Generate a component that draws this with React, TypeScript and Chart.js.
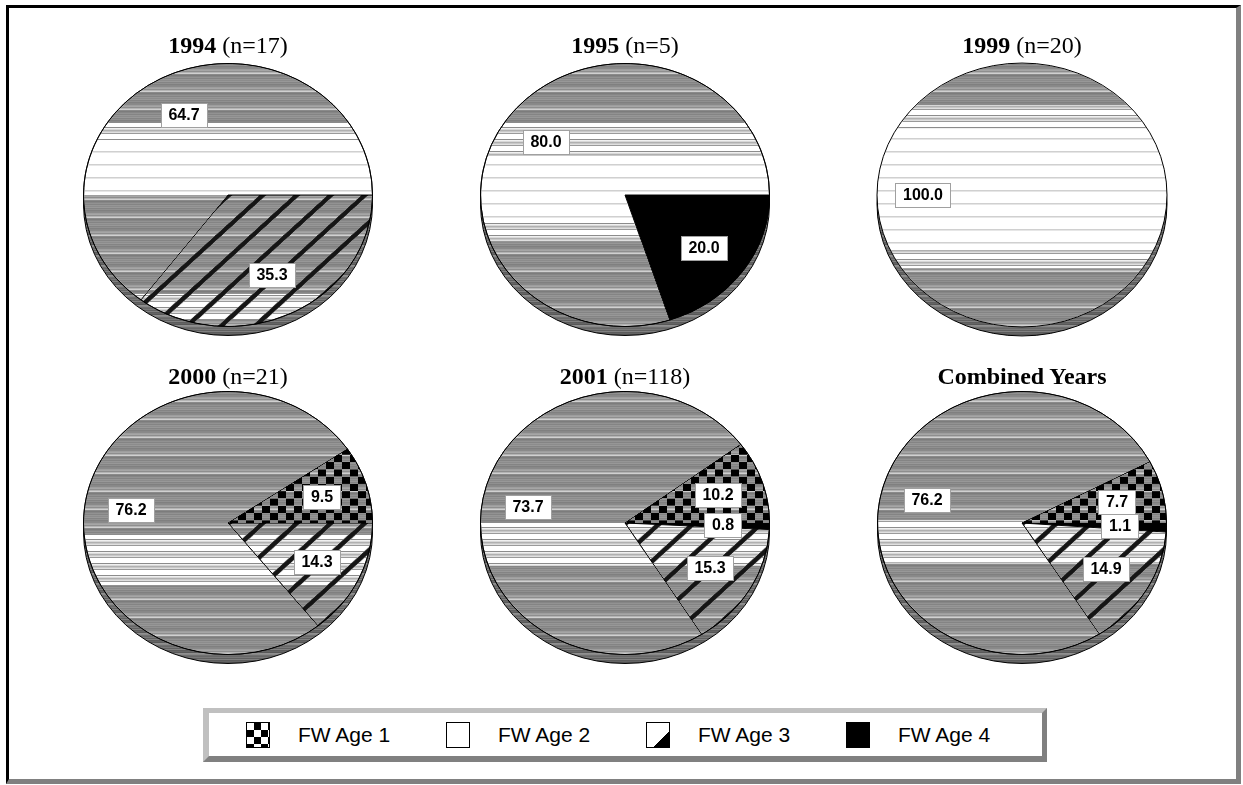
import React, { useEffect, useRef } from "react";
import { Chart, registerables } from "chart.js";

Chart.register(...registerables);

// ---------- data ----------
const CATEGORIES = ["FW Age 1", "FW Age 2", "FW Age 3", "FW Age 4"];
const YEARS = ["1994", "1995", "1999", "2000", "2001", "Combined Years"];
const SAMPLE_SIZES = ["(n=17)", "(n=5)", "(n=20)", "(n=21)", "(n=118)", ""];
const AGE1 = [0, 0, 0, 9.5, 10.2, 7.7];
const AGE2 = [64.7, 80.0, 100.0, 76.2, 73.7, 76.2];
const AGE3 = [35.3, 0, 0, 14.3, 15.3, 14.9];
const AGE4 = [0, 20.0, 0, 0, 0.8, 1.1];

// ---------- layout / style ----------
const COL_X = [228, 625, 1022];
const ROW_Y = [195, 523];
const TITLE_Y = [32, 363];
const SQ = 0.91; // vertical squash of pies
const RIM = 9; // 3D rim depth
const CW = 300;
const CH = 310;

// shading bands per pie (fraction of vertical radius: -1 top .. 1 bottom)
const SHADE_BANDS: [number, number, string][][] = [
  [[-1, -0.55, "g"], [-0.55, -0.42, "l"], [-0.42, 0, "w"], [0, 0.75, "g"], [0.75, 0.95, "l"], [0.95, 1.01, "g"]],
  [[-1, -0.55, "g"], [-0.55, -0.3, "l"], [-0.3, 0.2, "w"], [0.2, 0.35, "l"], [0.35, 1.01, "g"]],
  [[-1, -0.68, "g"], [-0.68, -0.5, "l"], [-0.5, 0.42, "w"], [0.42, 0.55, "l"], [0.55, 1.01, "g"]],
  [[-1, 0.09, "g"], [0.09, 0.47, "l"], [0.47, 1.01, "g"]],
  [[-1, 0, "g"], [0, 0.33, "l"], [0.33, 1.01, "g"]],
  [[-1, -0.02, "g"], [-0.02, 0.3, "l"], [0.3, 1.01, "g"]],
];

const G_SEQ = [0x86, 0x8e, 0x80, 0x96, 0x8a, 0x9e, 0x84, 0x92, 0xb4, 0x88, 0x8c, 0x7c, 0xa6, 0x90, 0x84, 0xd0, 0x8a, 0x98];
const L_SEQ = [0xff, 0xc8, 0xff, 0x9a, 0xf0, 0xff, 0xb0, 0xff, 0xe0, 0x8c, 0xff, 0xd8];
const W_SEQ = [0xff, 0xff, 0xff, 0xff, 0xe6, 0xff, 0xff, 0xff, 0xff, 0xff, 0xd0, 0xff, 0xff];
const RIM_SEQ = [0x60, 0x70, 0x58, 0x80, 0x68, 0x90, 0x5c, 0x78, 0x88, 0x64];

function shadeLevel(kind: string, row: number) {
  const seq = kind === "g" ? G_SEQ : kind === "l" ? L_SEQ : W_SEQ;
  return seq[(row * 7) % seq.length];
}

function makePatterns(ctx: CanvasRenderingContext2D) {
  const t1 = document.createElement("canvas");
  t1.width = 16;
  t1.height = 16;
  const c1 = t1.getContext("2d")!;
  c1.fillStyle = "#fff";
  c1.fillRect(0, 0, 16, 16);
  c1.fillStyle = "#000";
  c1.fillRect(0, 0, 8, 8);
  c1.fillRect(8, 8, 8, 8);

  const S = 34;
  const t2 = document.createElement("canvas");
  t2.width = S;
  t2.height = S;
  const c2 = t2.getContext("2d")!;
  c2.fillStyle = "#fff";
  c2.fillRect(0, 0, S, S);
  c2.strokeStyle = "#151515";
  c2.lineWidth = 5;
  c2.beginPath();
  c2.moveTo(-S / 2, S / 2);
  c2.lineTo(S / 2, -S / 2);
  c2.moveTo(0, S);
  c2.lineTo(S, 0);
  c2.moveTo(S / 2, S * 1.5);
  c2.lineTo(S * 1.5, S / 2);
  c2.stroke();

  return {
    checker: ctx.createPattern(t1, "repeat")!,
    hatch: ctx.createPattern(t2, "repeat")!,
  };
}

function PieCanvas({ index }: { index: number }) {
  const ref = useRef<HTMLCanvasElement | null>(null);
  const cx = COL_X[index % 3];
  const cy = ROW_Y[Math.floor(index / 3)];

  useEffect(() => {
    const canvas = ref.current!;
    const ctx = canvas.getContext("2d")!;
    const pats = makePatterns(ctx);
    // drawn clockwise from 3 o'clock: Age 4, Age 3, Age 2, Age 1
    const values = [AGE4[index], AGE3[index], AGE2[index], AGE1[index]];
    const labels = [CATEGORIES[3], CATEGORIES[2], CATEGORIES[1], CATEGORIES[0]];
    const fills: any[] = ["#000000", pats.hatch, "#ffffff", pats.checker];
    const bands = SHADE_BANDS[index];

    const plugin = {
      id: "pie3d",
      beforeDatasetsDraw(chart: any) {
        const el = chart.getDatasetMeta(0).data[0];
        const x = el.x, y = el.y, r = el.outerRadius;
        const c = chart.ctx as CanvasRenderingContext2D;
        c.save();
        c.beginPath();
        c.ellipse(x, y + RIM, r, r * SQ, 0, 0, Math.PI * 2);
        c.clip();
        const top = Math.floor(y + RIM - r * SQ);
        for (let yy = top; yy <= y + RIM + r * SQ + 1; yy++) {
          const g = RIM_SEQ[(yy * 3) % RIM_SEQ.length];
          c.fillStyle = `rgb(${g},${g},${g})`;
          c.fillRect(x - r - 2, yy, 2 * r + 4, 1);
        }
        c.restore();
        c.beginPath();
        c.ellipse(x, y + RIM, r, r * SQ, 0, 0, Math.PI * 2);
        c.strokeStyle = "#000";
        c.lineWidth = 1;
        c.stroke();
        c.save();
        c.translate(x, y);
        c.scale(1, SQ);
        c.translate(-x, -y);
      },
      afterDatasetsDraw(chart: any) {
        const c = chart.ctx as CanvasRenderingContext2D;
        c.restore();
        const el = chart.getDatasetMeta(0).data[0];
        const x = el.x, y = el.y, r = el.outerRadius;
        const ry = r * SQ;
        c.save();
        c.beginPath();
        c.ellipse(x, y, r - 0.5, ry - 0.5, 0, 0, Math.PI * 2);
        c.clip();
        c.globalCompositeOperation = "darken";
        for (let yy = Math.floor(y - ry); yy <= y + ry; yy++) {
          const f = (yy + 0.5 - y) / ry;
          let kind = "g";
          for (const b of bands) {
            if (f >= b[0] && f < b[1]) {
              kind = b[2];
              break;
            }
          }
          const g = shadeLevel(kind, yy);
          if (g < 255) {
            c.fillStyle = `rgb(${g},${g},${g})`;
            c.fillRect(x - r - 1, yy, 2 * r + 2, 1);
          }
        }
        c.restore();
        c.beginPath();
        c.ellipse(x, y, r, ry, 0, 0, Math.PI * 2);
        c.strokeStyle = "#000";
        c.lineWidth = 1;
        c.stroke();
      },
      afterDraw(chart: any) {
        const c = chart.ctx as CanvasRenderingContext2D;
        const meta = chart.getDatasetMeta(0);
        c.save();
        c.font = 'bold 16px "Liberation Sans", Arial, sans-serif';
        c.textAlign = "center";
        c.textBaseline = "middle";
        meta.data.forEach((el: any, i: number) => {
          const v = values[i];
          if (!(v > 0)) return;
          const mid = (el.startAngle + el.endAngle) / 2;
          const r = el.outerRadius;
          const px = Math.round(el.x + Math.cos(mid) * 0.68 * r);
          const py = Math.round(el.y + Math.sin(mid) * 0.68 * r * SQ);
          const txt = v.toFixed(1);
          const w = Math.round(c.measureText(txt).width + 16);
          const h = 25;
          const bx = Math.round(px - w / 2);
          const by = Math.round(py - h / 2);
          c.fillStyle = "#fff";
          c.fillRect(bx, by, w, h);
          c.strokeStyle = "#a0a0a0";
          c.lineWidth = 1;
          c.strokeRect(bx + 0.5, by + 0.5, w - 1, h - 1);
          c.fillStyle = "#000";
          c.fillText(txt, px, py + 1);
        });
        c.restore();
      },
    };

    const chart = new Chart(canvas, {
      type: "pie",
      data: {
        labels,
        datasets: [
          {
            data: values,
            backgroundColor: fills,
            borderColor: "#000",
            borderWidth: values.map((v) => (v > 0 && v < 100 ? 1 : 0)),
            clip: false as any,
          } as any,
        ],
      },
      options: {
        animation: false,
        responsive: false,
        rotation: 90,
        events: [],
        layout: { padding: 5 },
        plugins: { legend: { display: false }, tooltip: { enabled: false } },
      } as any,
      plugins: [plugin as any],
    });
    return () => chart.destroy();
  }, [index]);

  return (
    <canvas
      ref={ref}
      width={CW}
      height={CH}
      style={{ position: "absolute", left: cx - CW / 2, top: cy - 155, width: CW, height: CH }}
    />
  );
}

function Title({ index }: { index: number }) {
  const cx = COL_X[index % 3];
  const top = TITLE_Y[Math.floor(index / 3)];
  return (
    <div
      style={{
        position: "absolute",
        left: cx - 150,
        top,
        width: 300,
        textAlign: "center",
        fontFamily: '"Liberation Serif", "Times New Roman", serif',
        fontSize: 24,
        lineHeight: "26px",
        color: "#000",
        whiteSpace: "nowrap",
        zIndex: 2,
      }}
    >
      <b>{YEARS[index]}</b>
      {SAMPLE_SIZES[index] ? " " + SAMPLE_SIZES[index] : ""}
    </div>
  );
}

const LEGEND_TEXT_X = [298, 498, 698, 898];
const SWATCH_STYLES: React.CSSProperties[] = [
  {
    backgroundColor: "#fff",
    backgroundImage: "conic-gradient(#000 0 25%, #fff 0 50%, #000 0 75%, #fff 0)",
    backgroundSize: "14px 14px",
  },
  { background: "#fff" },
  { background: "linear-gradient(135deg, #fff 0 66%, #000 66% 100%)" },
  { background: "#000" },
];

export default function App() {
  useEffect(() => {
    document.body.style.margin = "0";
  }, []);
  return (
    <div style={{ position: "fixed", left: 0, top: 0, width: 1243, height: 785, background: "#fff", overflow: "hidden" }}>
      <div
        style={{
          position: "absolute",
          left: 6,
          top: 5,
          width: 1235,
          height: 779,
          boxSizing: "border-box",
          borderTop: "3px solid #000",
          borderLeft: "3px solid #000",
          borderRight: "5px solid #808080",
          borderBottom: "5px solid #808080",
        }}
      />
      {YEARS.map((_, i) => (
        <PieCanvas key={"p" + i} index={i} />
      ))}
      {YEARS.map((_, i) => (
        <Title key={"t" + i} index={i} />
      ))}
      <div
        style={{
          position: "absolute",
          left: 203,
          top: 708,
          width: 844,
          height: 54,
          boxSizing: "border-box",
          borderTop: "5px solid #c0c0c0",
          borderLeft: "6px solid #c0c0c0",
          borderRight: "5px solid #808080",
          borderBottom: "6px solid #808080",
          background: "#fff",
        }}
      />
      {CATEGORIES.map((name, i) => (
        <React.Fragment key={"l" + i}>
          <div
            style={{
              position: "absolute",
              left: LEGEND_TEXT_X[i] - 52,
              top: 722,
              width: 24,
              height: 26,
              boxSizing: "border-box",
              border: "1px solid #000",
              ...SWATCH_STYLES[i],
            }}
          />
          <div
            style={{
              position: "absolute",
              left: LEGEND_TEXT_X[i],
              top: 722,
              height: 26,
              lineHeight: "26px",
              fontFamily: '"Liberation Sans", Arial, sans-serif',
              fontSize: 21,
              color: "#000",
              whiteSpace: "nowrap",
            }}
          >
            {name}
          </div>
        </React.Fragment>
      ))}
    </div>
  );
}
